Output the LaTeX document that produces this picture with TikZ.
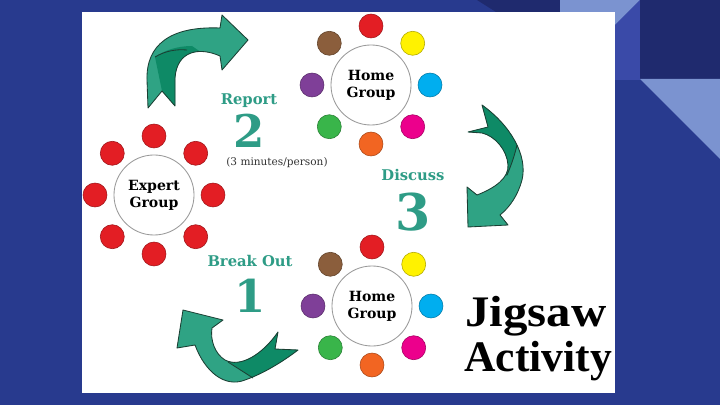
\documentclass[tikz,border=0pt]{standalone}
\usepackage{fontspec}
\setmainfont{DejaVu Serif}
\newfontfamily\titlefont{Liberation Serif}
\usepackage{graphicx}
\usetikzlibrary{calc}
\definecolor{slideblue}{HTML}{283A8E}
\definecolor{slidenavy}{HTML}{1F2A6E}
\definecolor{slidemid}{HTML}{3A4AA8}
\definecolor{slidelight}{HTML}{7B93D0}
\definecolor{arrlight}{HTML}{2FA384}
\definecolor{arrdark}{HTML}{0E8A66}
\definecolor{arrline}{HTML}{1B3F33}
\definecolor{tealtext}{HTML}{2E9C86}
\definecolor{ringgray}{HTML}{9A9A9A}
\definecolor{mred}{HTML}{E31E24}
\definecolor{myellow}{HTML}{FFF200}
\definecolor{mblue}{HTML}{00AEEF}
\definecolor{mmagenta}{HTML}{EC008C}
\definecolor{morange}{HTML}{F26522}
\definecolor{mgreen}{HTML}{39B54A}
\definecolor{mpurple}{HTML}{7F3F98}
\definecolor{mbrown}{HTML}{8B5E3C}
\tikzset{
  grp/.style      = {circle, draw=ringgray, line width=0.6pt, fill=white, minimum size=2cm,
                     inner sep=0pt, align=center, font=\bfseries\fontsize{10}{12}\selectfont},
  member/.style   = {circle, minimum size=0.6cm, inner sep=0pt, fill=#1, draw=#1!70!black, line width=0.4pt},
  steplab/.style  = {text=tealtext, font=\bfseries\fontsize{10.5}{12}\selectfont, inner sep=0pt, anchor=base},
  stepnum/.style  = {text=tealtext, font=\bfseries\fontsize{32}{32}\selectfont, inner sep=0pt},
  note/.style     = {font=\fontsize{7.5}{9}\selectfont, text=black!80, inner sep=0pt},
  bigtitle/.style = {font=\titlefont\bfseries\fontsize{31}{33}\selectfont, inner sep=0pt, anchor=base},
  arrbody/.style  = {fill=arrlight},
  arrface/.style  = {fill=arrdark},
  arredge/.style  = {draw=arrline, line width=0.6pt, line join=round},
}
% arrow outlines (pixel grid, y downwards)
\newcommand\arrowOne{(148,108) -- (147,80) .. controls (146,45) and (170,26) .. (220,28)
  -- (222,15) -- (248,40) -- (222,70) -- (220,56)
  .. controls (200,47) and (177,50) .. (175,78) -- (175,106) -- (162,91) -- cycle}
\newcommand\arrowTwo{(482,105) .. controls (510,125) and (528,155) .. (522,180)
  .. controls (518,195) and (510,207) .. (500,215) -- (508,225) -- (468,227) -- (467,187) -- (477,195)
  .. controls (495,188) and (509,178) .. (508,165) .. controls (507,150) and (495,136) .. (482,133)
  -- (468,132) -- (488,127) -- cycle}
\newcommand\arrowThree{(278,332) .. controls (262,355) and (240,368) .. (225,360)
  .. controls (215,354) and (210,340) .. (212,328) -- (223,320) -- (183,310) -- (177,348) -- (195,345)
  .. controls (205,372) and (225,388) .. (245,380) .. controls (265,373) and (285,360) .. (298,350)
  -- (275,349) -- cycle}

\begin{document}
\begin{tikzpicture}[x=0.025cm, y=-0.025cm]

% slide background
\fill[slideblue] (0,0) rectangle (720,405);
\fill[slidenavy] (477,0) -- (560,0) -- (560,12) -- (496,12) -- cycle;
\fill[slidelight] (560,0) -- (640,0) -- (600,40) -- (560,40) -- cycle;
\fill[slidemid] (640,0) -- (640,80) -- (615,80) -- (615,25) -- cycle;
\fill[slidenavy] (640,0) rectangle (720,79);
\fill[slidelight] (640,79) -- (720,79) -- (720,159) -- cycle;
\fill[white] (82,12) rectangle (615,393);

% arrows
\fill[arrbody] \arrowOne;
\begin{scope}
  \clip \arrowOne;
  \fill[arrface] (155,57) .. controls (165,50) and (178,46) .. (192,46) -- (205,55) -- (200,120)
    -- (165,120) -- (162,91) -- cycle;
\end{scope}
\draw[arredge] \arrowOne;
\draw[arredge] (155,57) .. controls (165,51) and (176,49) .. (187,50);

\fill[arrbody] \arrowTwo;
\begin{scope}
  \clip \arrowTwo;
  \fill[arrface] (540,138) -- (517,145) .. controls (514,158) and (510,168) .. (507,176)
    -- (460,176) -- (460,95) -- (540,95) -- cycle;
\end{scope}
\draw[arredge] \arrowTwo;
\draw[arredge] (517,145) .. controls (514,158) and (510,168) .. (507,175);

\fill[arrbody] \arrowThree;
\begin{scope}
  \clip \arrowThree;
  \fill[arrface] (226,360) -- (256,380) -- (256,400) -- (320,400) -- (320,320) -- (226,320) -- cycle;
\end{scope}
\draw[arredge] \arrowThree;
\draw[arredge] (228,362) -- (253,378);

% groups
\node[grp] (homeA) at (371,85) {Home\\Group};
\node[grp] (homeB) at (372,306) {Home\\Group};
\node[grp] (expert) at (154,195) {Expert\\Group};

\foreach \a/\c in {270/mred, 315/myellow, 0/mblue, 45/mmagenta, 90/morange, 135/mgreen, 180/mpurple, 225/mbrown} {
  \node[member=\c] (homeA-\a) at ($(homeA)+(\a:59)$) {};
  \node[member=\c] (homeB-\a) at ($(homeB)+(\a:59)$) {};
}
\foreach \a in {0,45,...,315}
  \node[member=mred] (expert-\a) at ($(expert)+(\a:59)$) {};

% steps
\node[steplab] (report) at (249,105) {Report};
\node[stepnum] (two) at (249,131) {2};
\node[note] (mins) at (277,163) {(3 minutes/person)};
\node[steplab] (discuss) at (413,181) {Discuss};
\node[stepnum, font=\bfseries\fontsize{36}{36}\selectfont] (three) at (413,212) {3};
\node[steplab] (breakout) at (250,267) {Break Out};
\node[stepnum] (one) at (250,296) {1};

% title
\node[bigtitle] (jig) at (536,326) {\scalebox{1.12}[1]{Jigsaw}};
\node[bigtitle] (act) at (538,371) {Activity};

\end{tikzpicture}
\end{document}
